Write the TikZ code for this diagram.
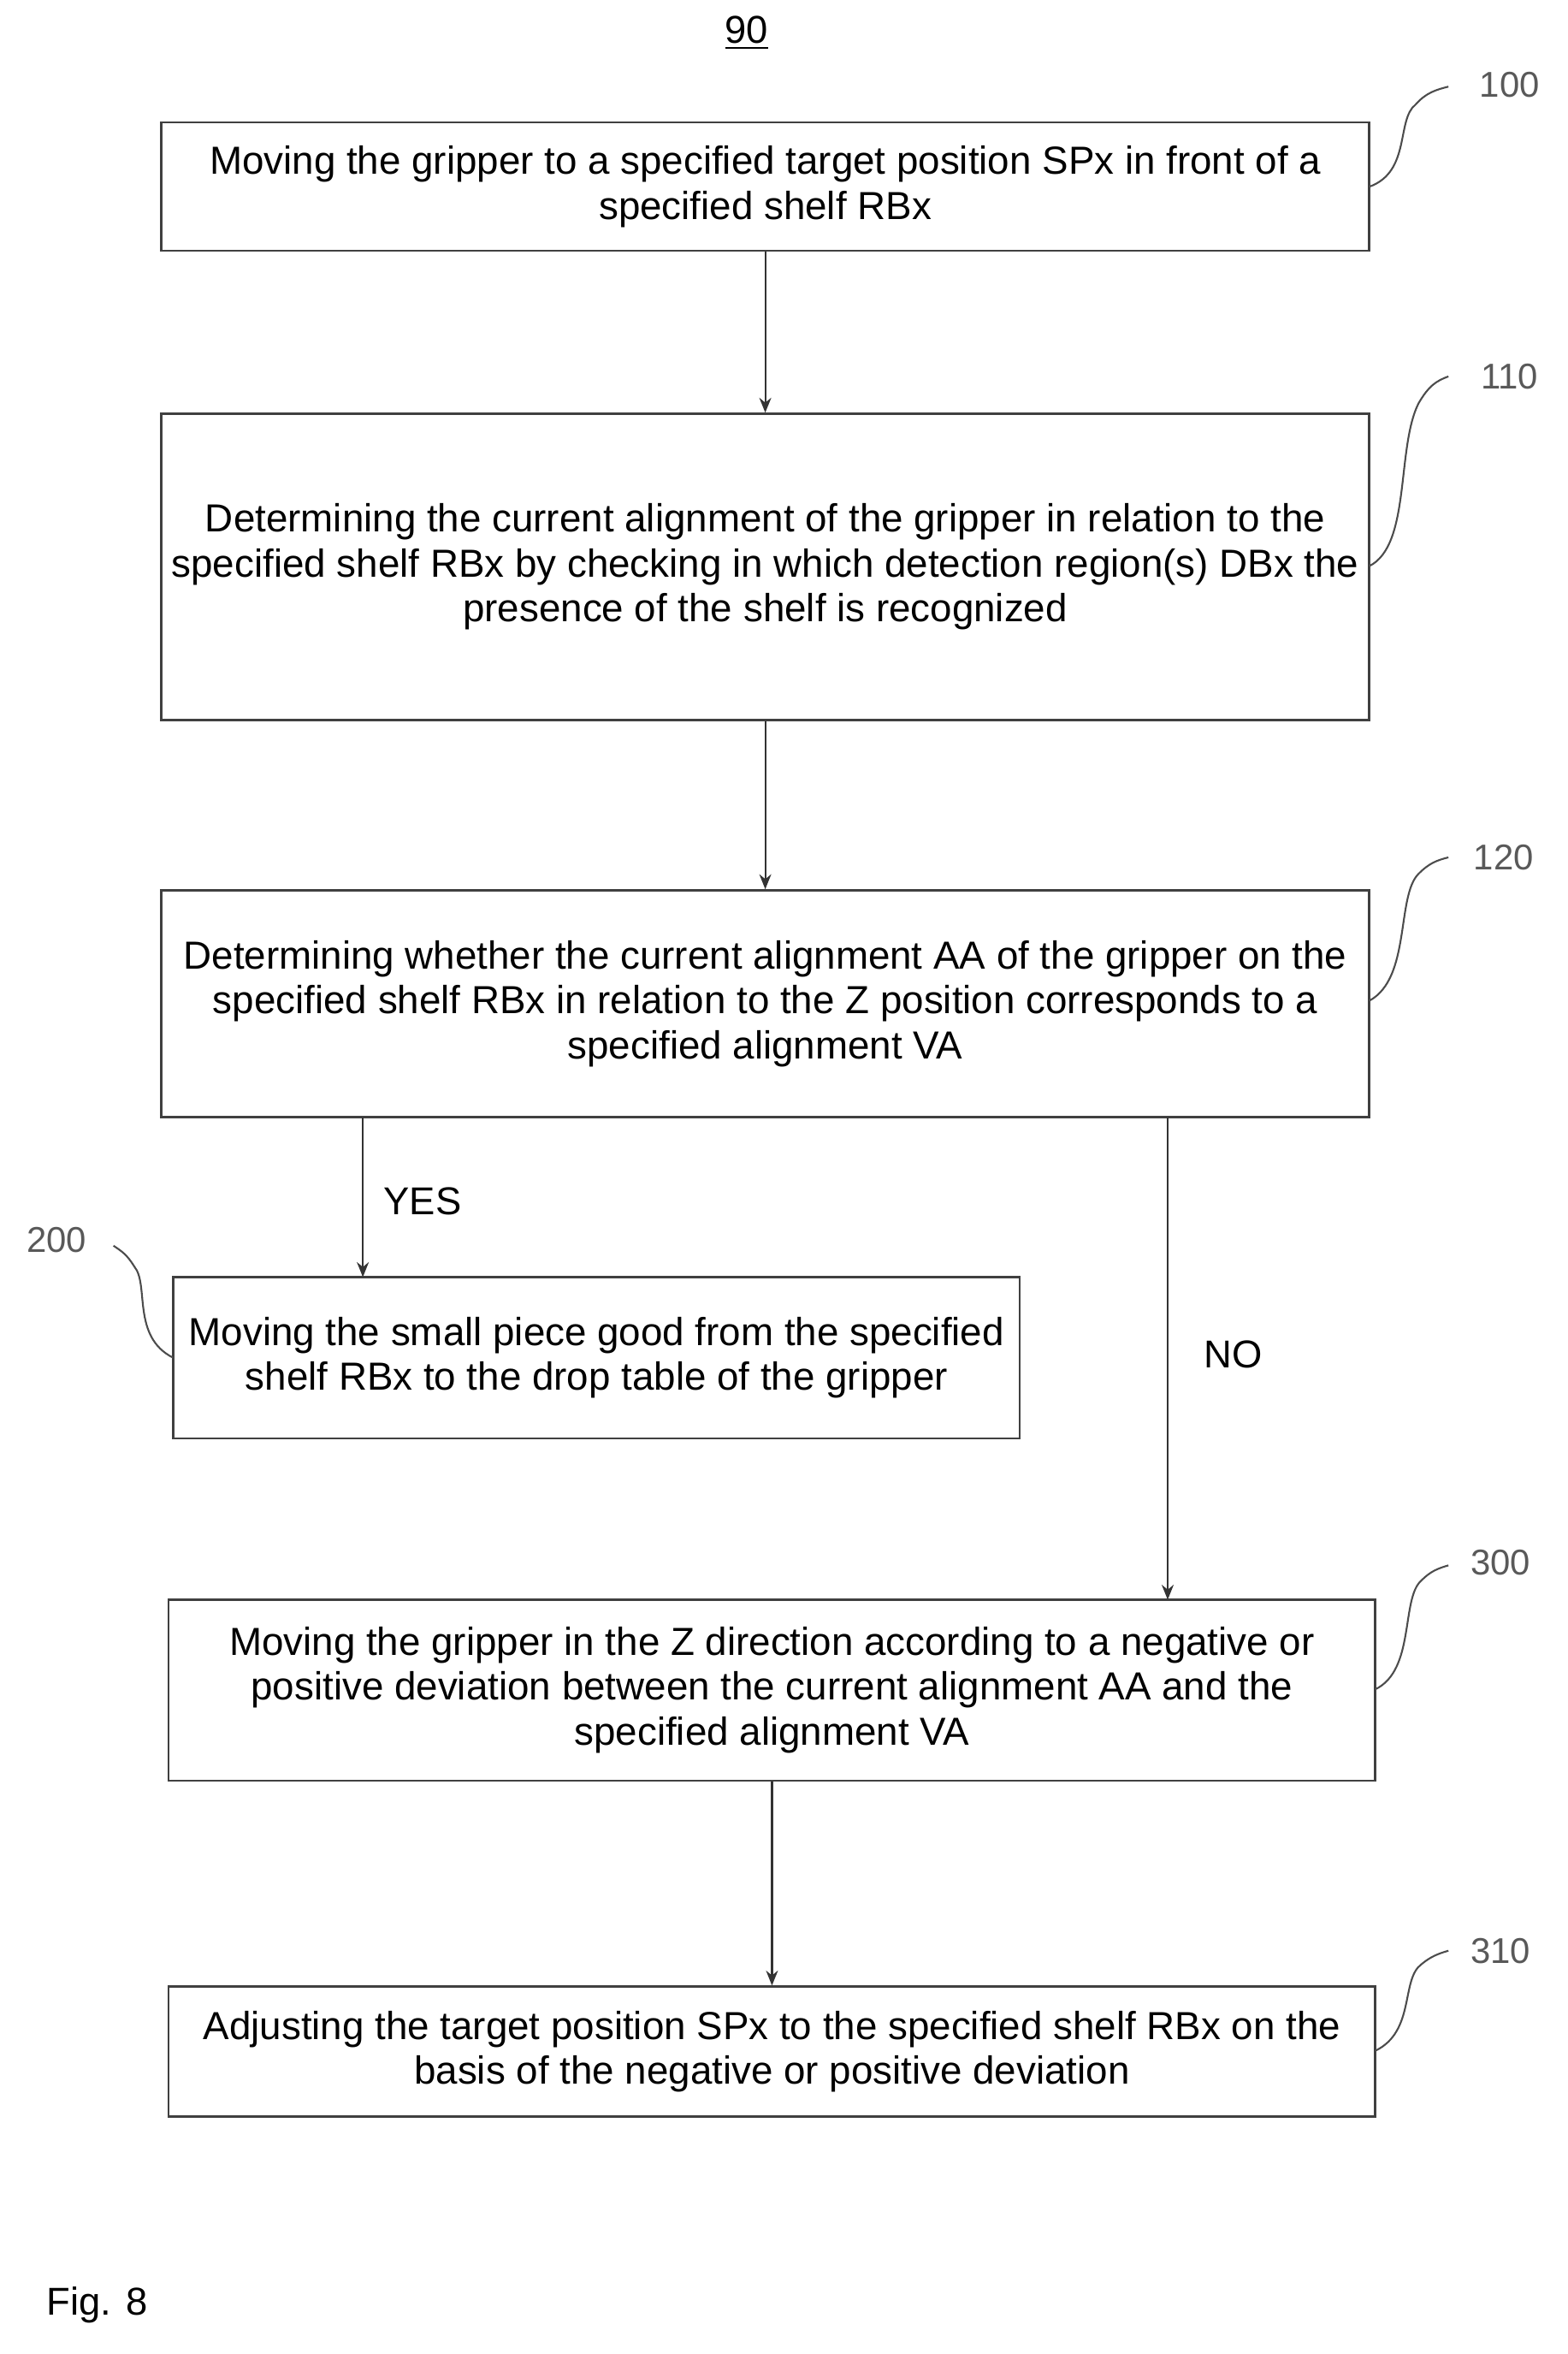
\documentclass[tikz,border=0pt]{standalone}
\usepackage{fontspec}
\setmainfont{Liberation Sans}
\usetikzlibrary{arrows.meta}
\begin{document}
\begin{tikzpicture}[x=0.5pt,y=-0.5pt,
  box/.style={draw=black!75,line width=0.7pt,inner sep=0pt,align=center,font=\fontsize{13.1}{15}\selectfont},
  arr/.style={draw=black!80,line width=0.6pt,-{Stealth[length=5pt,width=4pt]}},
  sq/.style={draw=black!70,line width=0.6pt},
  lab/.style={font=\fontsize{12}{14}\selectfont,text=black!65}]
\useasboundingbox (0,0) rectangle (1050,1576);
\node[font=\fontsize{13}{14}\selectfont] (t) at (500,22) {\underline{90}};
\node[box,minimum width=404.5pt,minimum height=43pt] (b100) at (512.5,125) {Moving the gripper to a specified target position SPx in front of a\\specified shelf RBx};
\node[box,minimum width=404.5pt,minimum height=102.5pt] (b110) at (512.5,379.5) {Determining the current alignment of the gripper in relation to the\\specified shelf RBx by checking in which detection region(s) DBx the\\presence of the shelf is recognized};
\node[box,minimum width=404.5pt,minimum height=76pt] (b120) at (512.5,672) {Determining whether the current alignment AA of the gripper on the\\specified shelf RBx in relation to the Z position corresponds to a\\specified alignment VA};
\node[box,minimum width=283.5pt,minimum height=54pt] (b200) at (399.5,909) {Moving the small piece good from the specified\\shelf RBx to the drop table of the gripper};
\node[box,minimum width=404pt,minimum height=60.5pt] (b300) at (517,1131.5) {Moving the gripper in the Z direction according to a negative or\\positive deviation between the current alignment AA and the\\specified alignment VA};
\node[box,minimum width=404pt,minimum height=43.5pt] (b310) at (517,1373.5) {Adjusting the target position SPx to the specified shelf RBx on the\\basis of the negative or positive deviation};
\draw[arr] (b100.south) -- (b110.north);
\draw[arr] (b110.south) -- (b120.north);
\draw[arr] (243,748) -- (243,855);
\draw[arr] (782,748) -- (782,1071);
\draw[arr] (b300.south) -- (b310.north);
\node[font=\fontsize{13}{14}\selectfont] (yes) at (283,804) {YES};
\node[font=\fontsize{13}{14}\selectfont] (no) at (826,907) {NO};
\node[lab] (l100) at (1011,57) {100};
\node[lab] (l110) at (1011,252) {110};
\node[lab] (l120) at (1007,574) {120};
\node[lab] (l200) at (38,830) {200};
\node[lab] (l300) at (1005,1046) {300};
\node[lab] (l310) at (1005,1306) {310};
\draw[sq] (917,125) .. controls (945,115) and (935,80) .. (948,70) .. controls (955,62) and (962,60) .. (970,58);
\draw[sq] (917,379) .. controls (945,365) and (935,300) .. (950,270) .. controls (957,258) and (962,255) .. (970,252);
\draw[sq] (917,670) .. controls (945,655) and (935,600) .. (950,585) .. controls (957,578) and (962,576) .. (970,574);
\draw[sq] (921,1131) .. controls (948,1118) and (938,1070) .. (952,1058) .. controls (958,1052) and (963,1050) .. (970,1048);
\draw[sq] (921,1373) .. controls (948,1360) and (938,1325) .. (952,1315) .. controls (958,1310) and (963,1308) .. (970,1306);
\draw[sq] (116,909) .. controls (88,895) and (100,860) .. (90,848) .. controls (85,840) and (82,838) .. (76,834);
\node[font=\fontsize{13}{14}\selectfont] (fig) at (65,1543) {Fig. 8};
\end{tikzpicture}
\end{document}
